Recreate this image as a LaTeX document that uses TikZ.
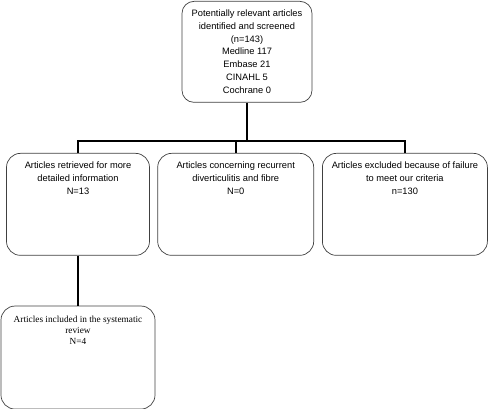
\documentclass[tikz,border=0pt]{standalone}
\usepackage{fontspec}
\setmainfont{Liberation Sans}
\newfontfamily\serifbox{Liberation Serif}
\usetikzlibrary{positioning}

\begin{document}
\begin{tikzpicture}[x=1pt,y=-1pt,node distance=50pt,
  box/.style={draw=black!75, line width=0.7pt, rounded corners=14pt, align=center,
    inner sep=0pt, text height=41.5pt, text depth=60.5pt, font=\fontsize{9.3}{13}\selectfont},
  link/.style={line width=1.8pt}]
\useasboundingbox (0,0) rectangle (488,409);
\node[box, anchor=north, minimum width=130pt, text height=91.7pt, text depth=9.3pt,
  rounded corners=12pt, font=\fontsize{9.3}{12.7}\selectfont] (screened) at (247,1)
  {Potentially relevant articles\\identified and screened\\(n=143)\\Medline 117\\Embase 21\\CINAHL 5\\Cochrane 0};
\node[box, anchor=north, minimum width=143pt] (retrieved) at (78,153)
  {Articles retrieved for more\\detailed information\\N=13};
\node[box, right=7.5pt of retrieved, minimum width=156pt] (concerning)
  {Articles concerning recurrent\\diverticulitis and fibre\\N=0};
\node[box, right=8pt of concerning, minimum width=165pt] (excluded)
  {Articles excluded because of failure\\to meet our criteria\\n=130};
\node[box, below=of retrieved, minimum width=154pt, text height=38.5pt, text depth=64.5pt,
  font=\serifbox\fontsize{9.3}{11}\selectfont] (included)
  {Articles included in the systematic\\review\\N=4};
\coordinate (bus) at (247,141);
\draw[link] (screened.south) -- (bus);
\draw[link] (retrieved.north) |- (bus) -| (excluded.north);
\draw[link] (concerning.north) -- (concerning.north |- bus);
\draw[link] (retrieved) -- (included);
\end{tikzpicture}
\end{document}
